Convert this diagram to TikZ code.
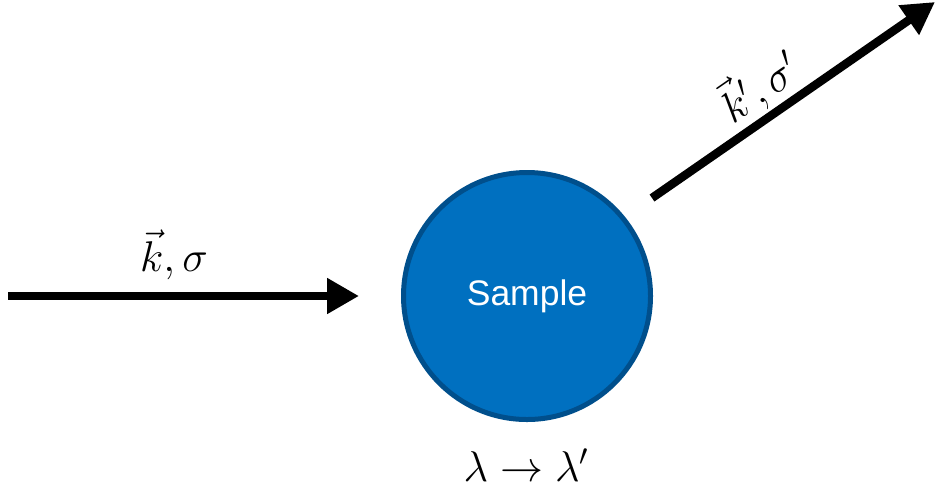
\RequirePackage{fix-cm}
\documentclass[tikz,border=0pt]{standalone}
\usepackage{fontspec}
\usepackage{amsmath}
\newfontfamily\samplefont{Liberation Sans}
\usetikzlibrary{arrows.meta,calc}
\definecolor{sfill}{HTML}{0070C0}
\definecolor{sborder}{HTML}{004F8C}
\begin{document}
\begin{tikzpicture}[x=1pt,y=-1pt,
  beam/.style={line width=8.5pt,-{Triangle[length=32pt,width=34pt]}},
  mathlabel/.style={inner sep=0pt,font=\fontsize{43}{48}\selectfont}]
\useasboundingbox (0,0) rectangle (936,491);
\node[circle,draw=sborder,fill=sfill,line width=5pt,minimum size=247pt,inner sep=0pt,
      font=\samplefont\fontsize{35.5}{40}\selectfont,text=white] (sample) at (527,296) {Sample};
\coordinate (inS) at (8,296);
\coordinate (inE) at (359,296);
\coordinate (outS) at (652,198);
\coordinate (outE) at (935,2);
\draw[beam] (inS) -- (inE);
\draw[beam] (outS) -- (outE);
\node[mathlabel] (kin) at (174,255) {$\vec{k},\sigma$};
\node[mathlabel,rotate=34.7] (kout) at (759,86) {$\vec{k}',\sigma'$};
\node[mathlabel] (lam) at (526,465) {$\lambda\to\lambda'$};
\end{tikzpicture}
\end{document}
